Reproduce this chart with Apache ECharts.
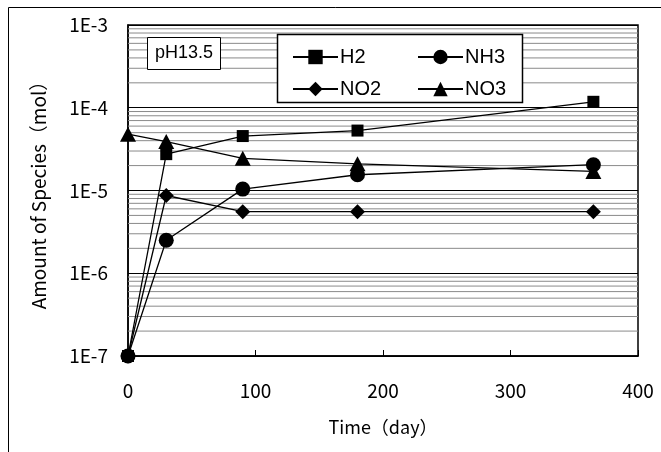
<!DOCTYPE html>
<html>
<head>
<meta charset="utf-8">
<script src="https://cdn.jsdelivr.net/npm/echarts@6/dist/echarts.min.js"></script>
<style>html,body{margin:0;padding:0;background:#fff}#c{width:661px;height:452px}</style>
</head>
<body>
<div id="c"></div>
<script>
const days = [0, 30, 90, 180, 365];
const h2  = [1e-7, 2.75e-5, 4.55e-5, 5.3e-5, 1.18e-4];
const nh3 = [1e-7, 2.5e-6, 1.04e-5, 1.55e-5, 2.05e-5];
const no2 = [1e-7, 8.7e-6, 5.55e-6, 5.55e-6, 5.55e-6];
const no3 = [4.8e-5, 3.9e-5, 2.45e-5, 2.1e-5, 1.7e-5];
const yTicks = [1e-7, 1e-6, 1e-5, 1e-4, 1e-3];
const xTicks = [0, 100, 200, 300, 400];
const minorMult = [2, 3, 4, 5, 6, 7, 8, 9];

const pairs = (xs, ys) => xs.map((x, i) => [x, ys[i]]);
const minorVals = [];
for (let d = 0; d < yTicks.length - 1; d++) {
  minorMult.forEach(m => minorVals.push([xTicks[0], m * yTicks[d]]));
}

const chart = echarts.init(document.getElementById('c'));
const axisFont = '"Noto Sans CJK JP", sans-serif';
const legFont = '"Liberation Sans", Arial, sans-serif';
const lineStyle = { color: '#000', width: 1.3 };
const common = { type: 'line', color: '#000', lineStyle, itemStyle: { color: '#000' }, z: 3, animation: false };
const xMax = xTicks[xTicks.length - 1];

chart.setOption({
  animation: false,
  backgroundColor: '#fff',
  grid: { left: 128, right: 23, top: 25, bottom: 96, show: true, borderColor: '#000', borderWidth: 1.5 },
  xAxis: {
    type: 'value', min: xTicks[0], max: xMax, interval: 100,
    name: 'Time（day）', nameLocation: 'middle', nameGap: 62,
    nameTextStyle: { fontFamily: axisFont, fontSize: 18, color: '#000' },
    axisLine: { lineStyle: { color: '#000', width: 1.5 } },
    axisTick: { inside: true, length: 6, lineStyle: { color: '#000' } },
    axisLabel: { margin: 25, fontFamily: axisFont, fontSize: 19, color: '#000' },
    splitLine: { show: false }
  },
  yAxis: {
    type: 'log', logBase: 10, min: yTicks[0], max: yTicks[yTicks.length - 1],
    name: 'Amount of Species（mol）', nameLocation: 'middle', nameGap: 80,
    nameTextStyle: { fontFamily: axisFont, fontSize: 19, color: '#000' },
    axisLine: { lineStyle: { color: '#000', width: 1.5 } },
    axisTick: { show: false },
    axisLabel: { margin: 20, fontFamily: axisFont, fontSize: 19, color: '#000',
      formatter: v => '1E' + Math.round(Math.log10(v)) },
    splitLine: { show: true, lineStyle: { color: '#000', width: 1 } }
  },
  title: {
    text: 'pH13.5', left: 147, top: 37, padding: [7, 8, 8, 8],
    borderColor: '#000', borderWidth: 1, backgroundColor: '#fff',
    textStyle: { fontFamily: legFont, fontSize: 18, fontWeight: 'normal', color: '#000' }
  },
  graphic: [
    { type: 'rect', z: 100, shape: { x: 8.5, y: 7.5, width: 700, height: 500 }, style: { fill: null, stroke: '#000', lineWidth: 1 } },
    { type: 'rect', z: 4, shape: { x: 277.5, y: 34.5, width: 245, height: 68 }, style: { fill: '#fff', stroke: '#000', lineWidth: 1.5 } }
  ],
  legend: [
    { data: ['H2', 'NO2'], orient: 'vertical', left: 292, top: 47, padding: 0, itemGap: 12, z: 6,
      itemWidth: 45, itemHeight: 18,
      textStyle: { fontFamily: legFont, fontSize: 20, color: '#000', padding: [0, 0, 0, -3] } },
    { data: ['NH3', 'NO3'], orient: 'vertical', left: 417, top: 47, padding: 0, itemGap: 12, z: 6,
      itemWidth: 45, itemHeight: 18,
      textStyle: { fontFamily: legFont, fontSize: 20, color: '#000', padding: [0, 0, 0, -3] } }
  ],
  series: [
    { name: 'minor', type: 'custom', silent: true, z: 1, data: minorVals,
      renderItem: (params, api) => {
        const v = api.value(1);
        const p0 = api.coord([xTicks[0], v]);
        const p1 = api.coord([xMax, v]);
        return { type: 'line', shape: { x1: p0[0], y1: p0[1], x2: p1[0], y2: p1[1] },
          style: { stroke: '#8a8a8a', lineWidth: 1 } };
      } },
    Object.assign({ name: 'H2', data: pairs(days, h2), symbol: 'rect', symbolSize: 12 }, common),
    Object.assign({ name: 'NO2', data: pairs(days, no2), symbol: 'diamond', symbolSize: 15 }, common),
    Object.assign({ name: 'NO3', data: pairs(days, no3), symbol: 'triangle', symbolSize: [16, 15] }, common),
    Object.assign({ name: 'NH3', data: pairs(days, nh3), symbol: 'circle', symbolSize: 15 }, common)
  ]
});
</script>
</body>
</html>
